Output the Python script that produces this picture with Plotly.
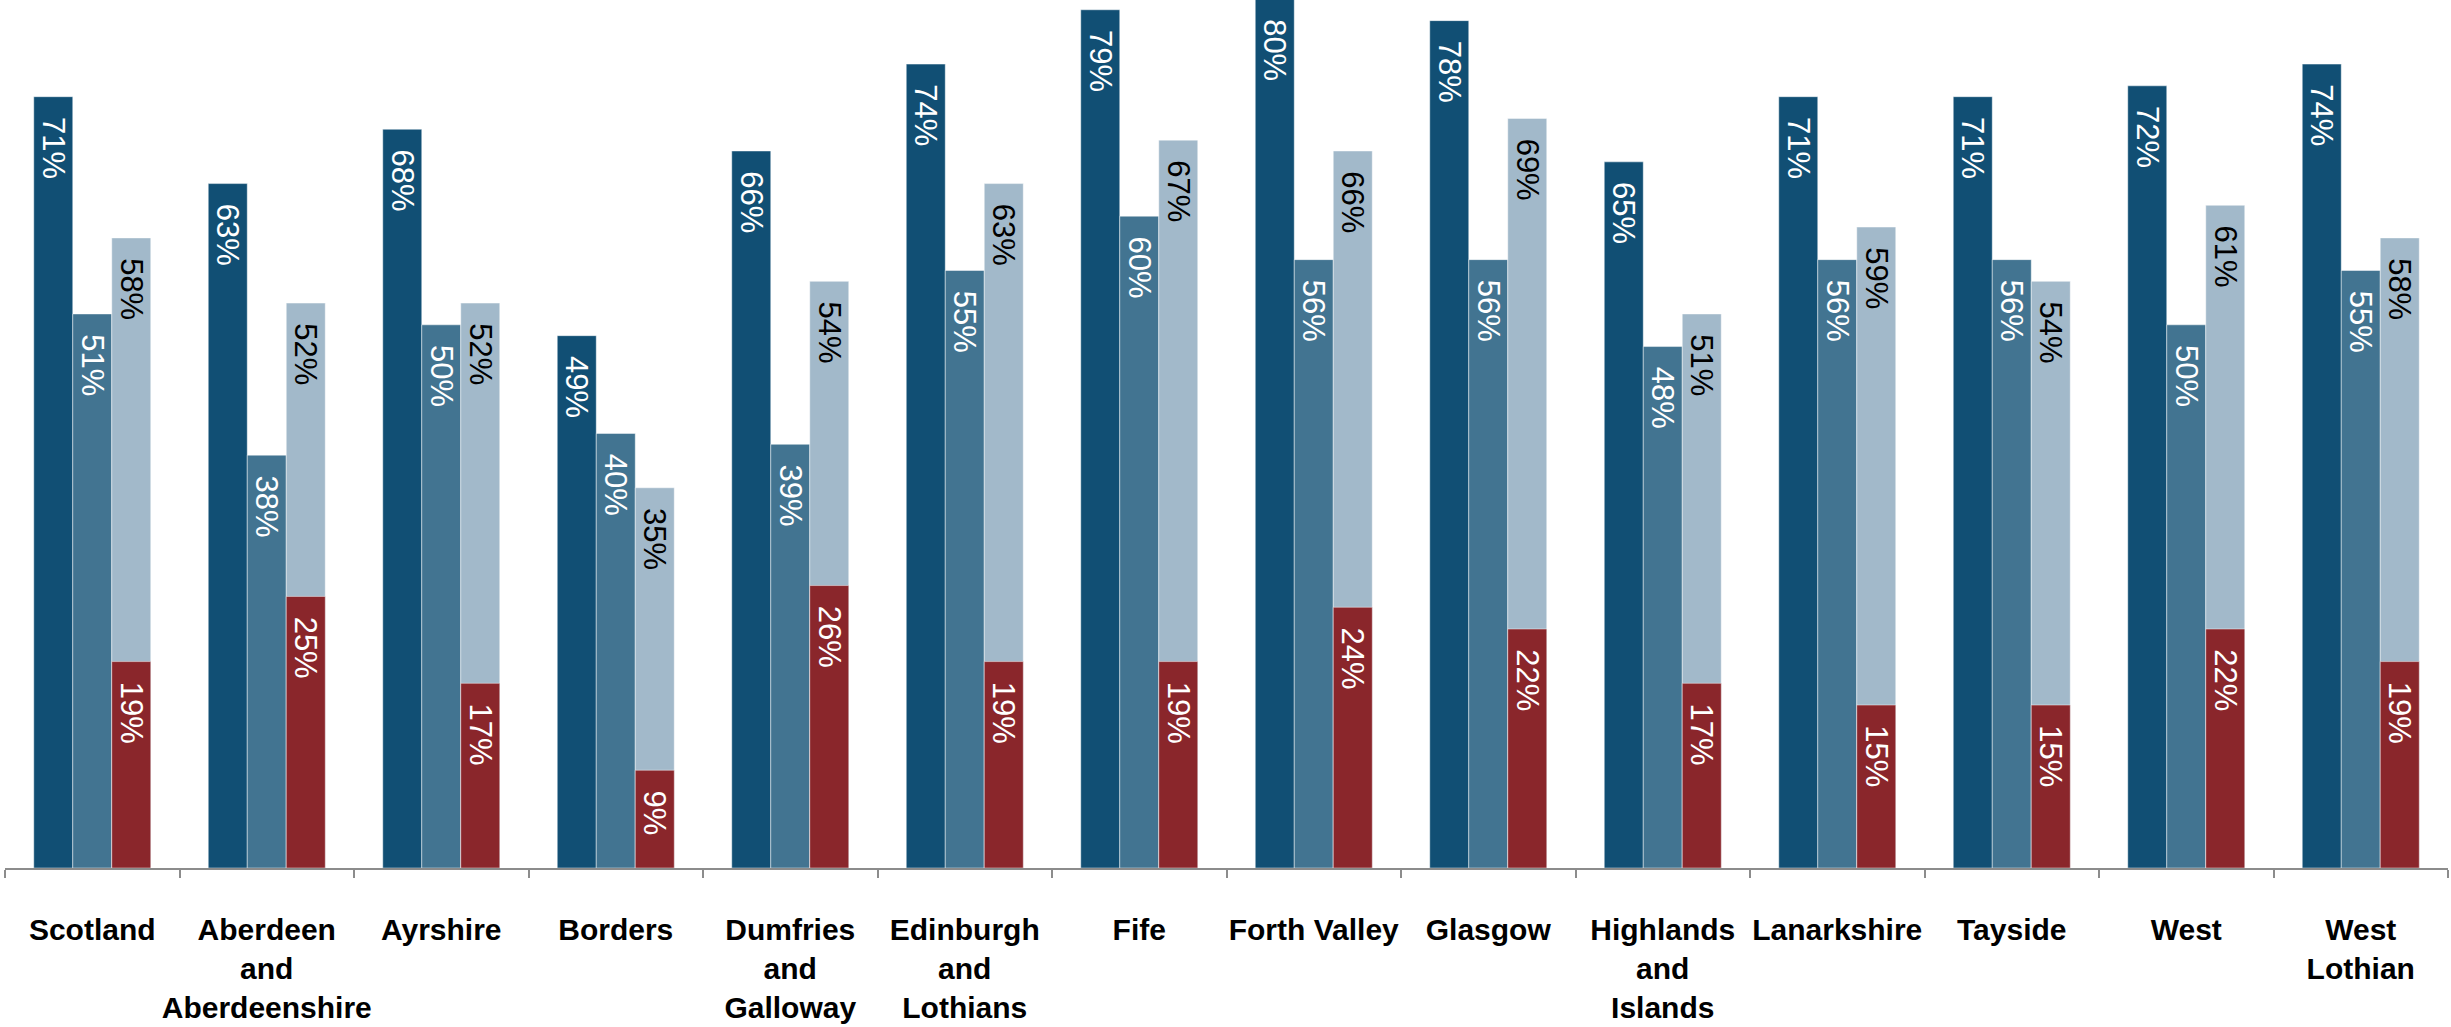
import plotly.graph_objects as go

# Regions and their four percentage measures
regions = [
    "Scotland", "Aberdeen<br>and<br>Aberdeenshire", "Ayrshire", "Borders",
    "Dumfries<br>and<br>Galloway", "Edinburgh<br>and<br>Lothians", "Fife",
    "Forth Valley", "Glasgow", "Highlands<br>and<br>Islands", "Lanarkshire",
    "Tayside", "West", "West<br>Lothian",
]
series_a = [71, 63, 68, 49, 66, 74, 79, 80, 78, 65, 71, 71, 72, 74]
series_b = [51, 38, 50, 40, 39, 55, 60, 56, 56, 48, 56, 56, 50, 55]
series_c = [58, 52, 52, 35, 54, 63, 67, 66, 69, 51, 59, 54, 61, 58]
series_d = [19, 25, 17, 9, 26, 19, 19, 24, 22, 17, 15, 15, 22, 19]

DARK = "#114F74"
MID = "#427491"
LIGHT = "#A2B9CA"
RED = "#8A262B"

BAR_W = 0.2235
LABEL_FONT = "Liberation Sans, Arial, sans-serif"
PAD = "\u00a0\u00a0"


def bar(values, color, offset, text_color, name):
    return go.Bar(
        x=regions,
        y=values,
        name=name,
        width=BAR_W,
        offset=offset,
        marker=dict(color=color, line=dict(color="rgba(255,255,255,0.45)", width=1)),
        texttemplate=PAD + "%{y}%",
        textposition="inside",
        insidetextanchor="end",
        textangle=90,
        constraintext="none",
        textfont=dict(family=LABEL_FONT, size=31, color=text_color),
        hoverinfo="skip",
    )


fig = go.Figure()
fig.add_trace(bar(series_a, DARK, -1.5 * BAR_W, "white", "a"))
fig.add_trace(bar(series_b, MID, -0.5 * BAR_W, "white", "b"))
fig.add_trace(bar(series_c, LIGHT, 0.5 * BAR_W, "black", "c"))
fig.add_trace(bar(series_d, RED, 0.5 * BAR_W, "white", "d"))

fig.update_layout(
    width=2451,
    height=1027,
    barmode="overlay",
    showlegend=False,
    plot_bgcolor="white",
    paper_bgcolor="white",
    margin=dict(l=5, r=3, t=0, b=159),
)
fig.update_xaxes(
    showline=True,
    linecolor="#8C8C8C",
    linewidth=2,
    ticks="outside",
    tickson="boundaries",
    ticklen=8,
    tickwidth=2,
    tickcolor="#8C8C8C",
    tickangle=0,
    automargin=False,
    ticklabelstandoff=34,
    tickfont=dict(family="Liberation Sans, Arial, sans-serif", size=30, color="black", weight="bold"),
    showgrid=False,
)
fig.update_yaxes(
    range=[0, 79.9],
    visible=False,
    showgrid=False,
    zeroline=False,
)

fig.write_html("out.html")
